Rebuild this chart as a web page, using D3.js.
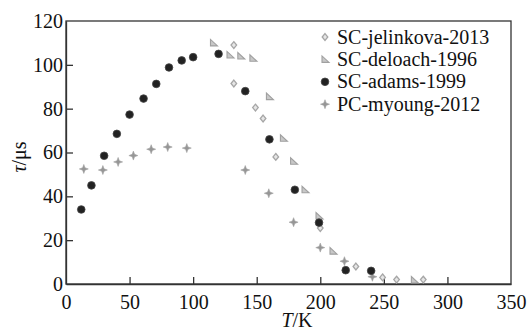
<!DOCTYPE html>
<html>
<head>
<meta charset="utf-8">
<script src="https://cdn.jsdelivr.net/npm/d3@7"></script>
<style>
  body { margin: 0; background: #fff; }
  svg text { font-family: "Liberation Serif", "DejaVu Serif", serif; fill: #111; }
</style>
</head>
<body>
<div id="chart"></div>
<script>
// series: T in K, tau in microseconds
var jelinkovaT   = [132, 132, 149, 155, 165, 200, 228, 249, 260, 281];
var jelinkovaTau = [109, 91.5, 80.5, 75.5, 58, 25.5, 8, 3, 2, 2];

var deloachT   = [116, 129, 137.5, 147, 160, 171, 179, 188, 199, 210, 274];
var deloachTau = [110, 104.5, 104, 103, 85.5, 66.5, 56, 43, 31, 15, 1.8];

var adamsT   = [12, 20, 30, 40, 50, 61, 71, 81, 91, 100, 120, 141, 160, 180, 199, 220, 240];
var adamsTau = [34, 45, 58.5, 68.5, 77.3, 84.6, 91.3, 98.8, 102, 103.5, 105, 88, 66, 43, 28, 6.3, 6];

var myoungT   = [14, 29, 41, 53, 67, 80, 95, 141, 159.5, 179, 200, 219, 241];
var myoungTau = [52.5, 52, 55.7, 58.6, 61.5, 62.5, 62, 52, 41.4, 28.2, 16.6, 10.4, 3.3];

var seriesNames = ['SC-jelinkova-2013', 'SC-deloach-1996', 'SC-adams-1999', 'PC-myoung-2012'];
var xTicks = [0, 50, 100, 150, 200, 250, 300, 350];
var yTicks = [0, 20, 40, 60, 80, 100, 120];

var width = 530, height = 330;
var margin = { top: 21, right: 19, bottom: 46, left: 66 };
var iw = width - margin.left - margin.right;
var ih = height - margin.top - margin.bottom;
var fs = 20;

var x = d3.scaleLinear().domain([0, 350]).range([0, iw]);
var y = d3.scaleLinear().domain([0, 120]).range([ih, 0]);

var svg = d3.select('#chart').append('svg').attr('width', width).attr('height', height);
var g = svg.append('g').attr('transform', 'translate(' + margin.left + ',' + margin.top + ')');

// frame
g.append('rect').attr('x', 0).attr('y', 0).attr('width', iw).attr('height', ih)
  .attr('fill', 'none').attr('stroke', '#333').attr('stroke-width', 1.3);

// axes, ticks pointing inward
var xAxis = g.append('g').attr('transform', 'translate(0,' + ih + ')')
  .call(d3.axisBottom(x).tickValues(xTicks).tickSizeInner(-7).tickSizeOuter(0).tickPadding(11));
var yAxis = g.append('g')
  .call(d3.axisLeft(y).tickValues(yTicks).tickSizeInner(-7).tickSizeOuter(0).tickPadding(3));
[xAxis, yAxis].forEach(function (a) {
  a.select('.domain').attr('stroke', '#333').attr('stroke-width', 1.3);
  a.selectAll('.tick line').attr('stroke', '#333').attr('stroke-width', 1.3);
  a.selectAll('.tick text').attr('font-size', fs).attr('fill', '#111')
    .style('font-family', '"Liberation Serif", serif');
});
xAxis.selectAll('.tick').filter(function (d) { return d === 0 || d === 350; }).select('line').remove();
yAxis.selectAll('.tick').filter(function (d) { return d === 0 || d === 120; }).select('line').remove();

// axis titles
svg.append('text').attr('x', 297).attr('y', 327).attr('text-anchor', 'middle').attr('font-size', fs)
  .html('<tspan font-style="italic">T</tspan>/K');
svg.append('text').attr('transform', 'translate(26,157) rotate(-90)').attr('text-anchor', 'middle').attr('font-size', fs)
  .html('<tspan font-style="italic">τ</tspan>/μs');

// marker shapes
var shapes = {
  diamond: 'M0,-3.4L2.8,0L0,3.4L-2.8,0Z',
  triangle: 'M-3,-3.5L-3,3L4,3Z',
  circle: d3.symbol().type(d3.symbolCircle).size(46)(),
  cross: 'M0,-4.5L1.2,-1.2L4.5,0L1.2,1.2L0,4.5L-1.2,1.2L-4.5,0L-1.2,-1.2Z'
};
var styles = [
  { shape: 'diamond', fill: '#e6e6e6', stroke: '#a6a6a6', sw: 1.3 },
  { shape: 'triangle', fill: '#c8c8c8', stroke: '#a0a0a0', sw: 1.1 },
  { shape: 'circle', fill: '#222', stroke: '#444', sw: 0.8 },
  { shape: 'cross', fill: '#969696', stroke: '#a2a2a2', sw: 0.6 }
];
var seriesT = [jelinkovaT, deloachT, adamsT, myoungT];
var seriesTau = [jelinkovaTau, deloachTau, adamsTau, myoungTau];

// draw order: crosses, triangles, diamonds, then black dots on top
[3, 1, 0, 2].forEach(function (k) {
  var pts = seriesT[k].map(function (t, i) { return { t: t, v: seriesTau[k][i] }; });
  var st = styles[k];
  g.append('g').selectAll('path').data(pts).enter().append('path')
    .attr('d', shapes[st.shape])
    .attr('transform', function (d) { return 'translate(' + x(d.t) + ',' + y(d.v) + ')'; })
    .attr('fill', st.fill).attr('stroke', st.stroke).attr('stroke-width', st.sw);
});

// legend
var legend = svg.append('g').attr('transform', 'translate(325,37)');
seriesNames.forEach(function (name, i) {
  var row = legend.append('g').attr('transform', 'translate(0,' + (i * 22.4) + ')');
  var st = styles[i];
  row.append('path').attr('d', shapes[st.shape])
    .attr('fill', st.fill).attr('stroke', st.stroke).attr('stroke-width', st.sw);
  row.append('text').attr('x', 12).attr('y', 6.5).attr('font-size', fs).text(name);
});
</script>
</body>
</html>
